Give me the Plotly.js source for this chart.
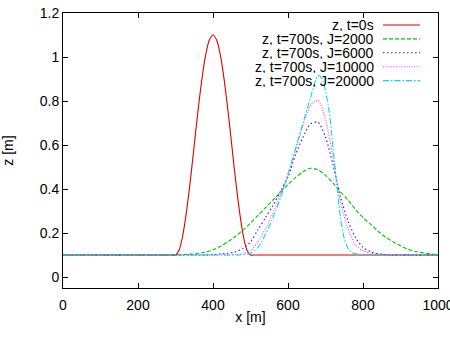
<!DOCTYPE html>
<html><head><meta charset="utf-8">
<script src="https://cdn.plot.ly/plotly-3.0.1.min.js"></script>
<style>html,body{margin:0;padding:0;background:#fff}#chart{width:450px;height:340px}</style>
</head><body><div id="chart"></div>
<script>
// ---- data ----
const seriesNames = ['z, t=0s', 'z, t=700s, J=2000', 'z, t=700s, J=6000', 'z, t=700s, J=10000', 'z, t=700s, J=20000'];

const x0s = [0, 290, 300, 310, 320, 330, 340, 350, 360, 370, 380, 390, 400, 410, 420, 430, 440, 450, 460, 470, 480, 490, 500, 510, 1000];
const z0s = [0.1, 0.1, 0.1, 0.124, 0.195, 0.306, 0.445, 0.6, 0.755, 0.894, 1.005, 1.076, 1.1, 1.076, 1.005, 0.894, 0.755, 0.6, 0.445, 0.306, 0.195, 0.124, 0.1, 0.1, 0.1];

const xJ2000 = [0, 260, 280, 300, 320, 340, 360, 380, 400, 420, 440, 460, 480, 500, 520, 540, 560, 580, 600, 620, 640, 660, 680, 700, 720, 740, 760, 780, 800, 820, 840, 860, 880, 900, 920, 940, 960, 980, 1000];
const zJ2000 = [0.1, 0.1, 0.100, 0.101, 0.102, 0.104, 0.107, 0.113, 0.123, 0.140, 0.160, 0.185, 0.213, 0.245, 0.280, 0.315, 0.350, 0.385, 0.420, 0.452, 0.478, 0.494, 0.487, 0.462, 0.427, 0.388, 0.350, 0.307, 0.270, 0.240, 0.208, 0.182, 0.160, 0.142, 0.126, 0.116, 0.110, 0.105, 0.102];

const xJ6000 = [0, 360, 380, 400, 420, 440, 460, 480, 500, 520, 540, 560, 580, 600, 620, 640, 660, 680, 700, 720, 740, 760, 780, 800, 820, 840, 860, 880, 900, 1000];
const zJ6000 = [0.1, 0.1, 0.1, 0.102, 0.105, 0.108, 0.115, 0.13, 0.16, 0.215, 0.27, 0.325, 0.39, 0.455, 0.555, 0.635, 0.695, 0.703, 0.635, 0.51, 0.365, 0.255, 0.18, 0.135, 0.115, 0.106, 0.102, 0.1, 0.1, 0.1];

const xJ10000 = [0, 420, 440, 460, 480, 500, 520, 540, 560, 580, 600, 620, 640, 660, 680, 700, 720, 740, 760, 780, 800, 820, 840, 860, 880, 1000];
const zJ10000 = [0.1, 0.1, 0.1, 0.102, 0.106, 0.12, 0.16, 0.22, 0.29, 0.375, 0.465, 0.575, 0.69, 0.78, 0.803, 0.715, 0.545, 0.34, 0.22, 0.145, 0.12, 0.108, 0.103, 0.1, 0.1, 0.1];

const xJ20000 = [0, 440, 460, 480, 500, 520, 540, 560, 580, 600, 620, 640, 660, 680, 690, 700, 710, 720, 730, 740, 750, 760, 770, 780, 800, 820, 1000];
const zJ20000 = [0.1, 0.1, 0.1, 0.102, 0.108, 0.135, 0.195, 0.27, 0.36, 0.47, 0.585, 0.70, 0.815, 0.915, 0.905, 0.845, 0.75, 0.59, 0.42, 0.27, 0.175, 0.13, 0.112, 0.105, 0.1, 0.1, 0.1];

const xTicks = [0, 200, 400, 600, 800, 1000];
const yTicks = [0, 0.2, 0.4, 0.6, 0.8, 1, 1.2];

// ---- styling ----
const colors = ['#e00000', '#00c400', '#2020c0', '#ff30ff', '#00dede'];
const dashes = ['solid', '4px,2px', '1.5px,2.5px', '1px,1.6px', '6px,2px,1.5px,2px'];
const xsAll = [x0s, xJ2000, xJ6000, xJ10000, xJ20000];
const zsAll = [z0s, zJ2000, zJ6000, zJ10000, zJ20000];

const traces = seriesNames.map((n, i) => ({
  type: 'scatter', mode: 'lines', name: n,
  x: xsAll[i], y: zsAll[i],
  line: {color: colors[i], width: 1.1, dash: dashes[i], shape: 'spline', smoothing: 0.8},
  showlegend: false, hoverinfo: 'skip'
}));

const FONT = {family: '"Liberation Sans", Arial, Helvetica, sans-serif', size: 14, color: '#000'};
const M = {l: 63, r: 12, t: 13, b: 52};
const PW = 450 - M.l - M.r, PH = 340 - M.t - M.b;
const px2paperX = p => (p - M.l) / PW;
const py2paperY = p => (340 - M.b - p) / PH;

const annotations = [], shapes = [];
seriesNames.forEach((n, i) => {
  const rowY = py2paperY(25 + 13.9 * i);
  annotations.push({xref: 'paper', yref: 'paper', x: px2paperX(375), y: rowY,
    xanchor: 'right', yanchor: 'middle', text: n, showarrow: false, font: FONT,
    borderpad: 0, height: 13});
  shapes.push({type: 'line', xref: 'paper', yref: 'paper', x0: px2paperX(383), x1: px2paperX(420),
    y0: rowY, y1: rowY, line: {color: colors[i], width: 1.1, dash: dashes[i]}});
});

const axisCommon = {
  showline: true, linecolor: '#000', linewidth: 1, mirror: 'allticks',
  ticks: 'inside', ticklen: 5, tickwidth: 1, tickcolor: '#000',
  showgrid: false, zeroline: false, tickfont: FONT, automargin: false, fixedrange: true,
  ticklabeloverflow: 'allow'
};

const layout = {
  width: 450, height: 340, margin: M,
  paper_bgcolor: '#fff', plot_bgcolor: '#fff', font: FONT, showlegend: false,
  xaxis: Object.assign({}, axisCommon, {range: [0, 1000], tickvals: xTicks, ticktext: xTicks.map(String),
    ticklabelstandoff: 4, title: {text: 'x [m]', font: FONT, standoff: 0}}),
  yaxis: Object.assign({}, axisCommon, {range: [-0.05, 1.2], tickvals: yTicks, ticktext: yTicks.map(String),
    ticklabelstandoff: 0, title: {text: 'z [m]', font: FONT, standoff: 22}}),
  annotations: annotations, shapes: shapes
};

Plotly.newPlot('chart', traces, layout, {staticPlot: true, displayModeBar: false});
</script></body></html>
